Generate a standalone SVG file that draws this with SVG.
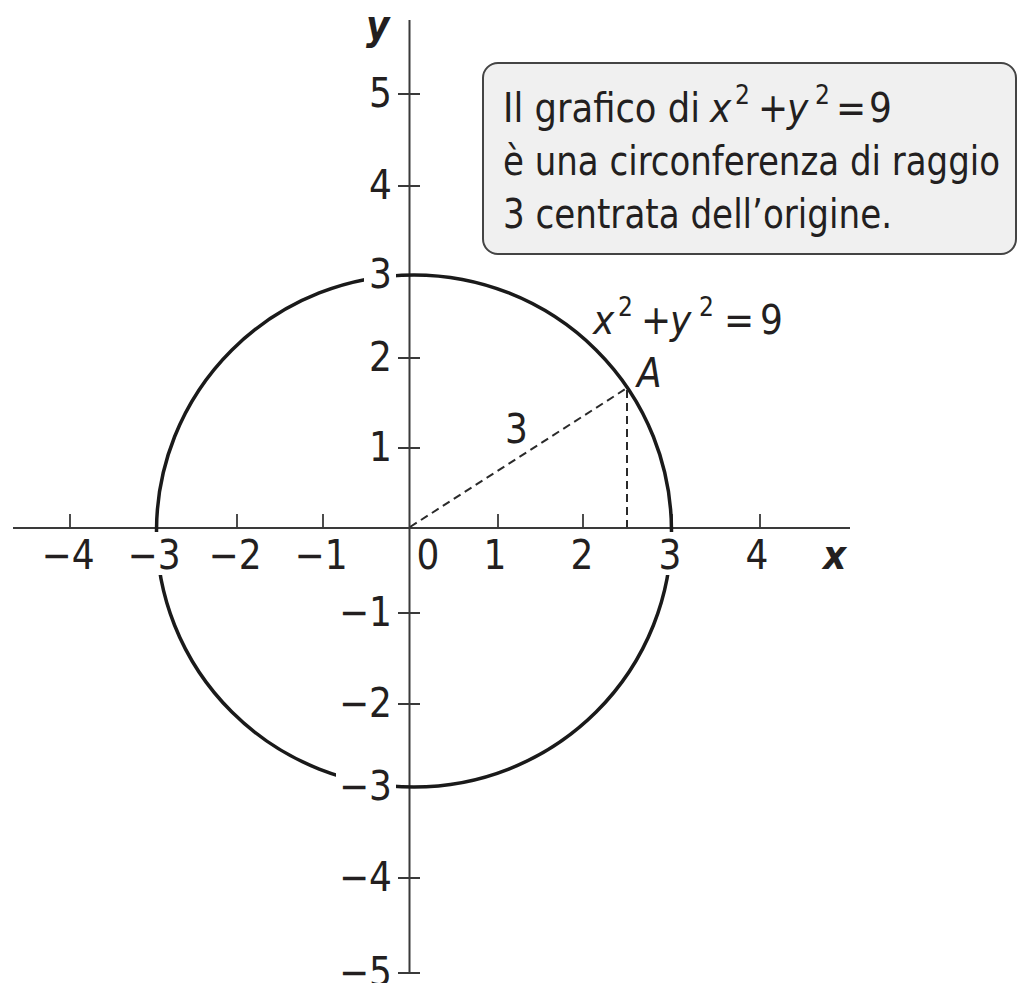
<svg xmlns="http://www.w3.org/2000/svg" width="1019" height="983" viewBox="0 0 1019 983">
<style>
.ax{stroke:#3a3a3a;stroke-width:2;fill:none}
.tk{stroke:#3a3a3a;stroke-width:1.8;fill:none}
.dash{stroke:#2a2a2a;stroke-width:2;stroke-dasharray:8 5;fill:none}
.crc{stroke:#1a1a1a;stroke-width:3.5;fill:none}
.knock{fill:#ffffff;stroke:none}
text{font-family:"Liberation Sans Narrow","DejaVu Sans Condensed","Open Sans",sans-serif;font-size:40px;fill:#231f20}
.ym{text-anchor:end}
.xm{text-anchor:middle}
.it{font-style:italic}
.bi{font-style:italic;font-weight:bold}
.sup{font-size:26px}
</style>
<rect width="1019" height="983" fill="#ffffff"/>
<g id="callout">
<rect x="483" y="63" width="533" height="191" rx="15" ry="15" fill="#f0f0f0" stroke="#444444" stroke-width="2"/>
<text x="503" y="122" textLength="197" lengthAdjust="spacingAndGlyphs">Il grafico di</text>
<text y="122"><tspan x="710" class="it">x</tspan><tspan x="735" dy="-18" class="sup">2</tspan><tspan x="758" dy="18">+</tspan><tspan x="787" class="it">y</tspan><tspan x="815" dy="-18" class="sup">2</tspan><tspan x="836" dy="18">=</tspan><tspan x="869">9</tspan></text>
<text x="503" y="175" textLength="497" lengthAdjust="spacingAndGlyphs">è una circonferenza di raggio</text>
<text x="503" y="228" textLength="389" lengthAdjust="spacingAndGlyphs">3 centrata dell’origine.</text>
</g>
<g id="axes">
<line class="ax" x1="13" y1="528" x2="850" y2="528"/>
<line class="ax" x1="409.5" y1="20" x2="409.5" y2="973"/>
<path class="tk" d="M70 514V528M157 514V528M237 514V528M323 514V528M498 514V528M583 514V528M672 514V528M760 514V528"/>
<path class="tk" d="M398 94H420M398 186H420M398 275H420M398 358H420M398 448H420M398 613H420M398 704H420M398 787H420M398 878H420M398 973H420"/>
</g>
<g id="circle">
<ellipse class="crc" cx="414" cy="531" rx="257.5" ry="256"/>
</g>
<g id="connectors">
<line class="dash" x1="410" y1="527" x2="627" y2="388"/>
<line class="dash" x1="627" y1="390" x2="627" y2="527"/>
</g>
<g id="label-gaps">
<rect class="knock" x="364" y="258" width="32" height="34"/>
<rect class="knock" x="336" y="768" width="60" height="36"/>
<rect class="knock" x="130" y="532" width="48" height="43"/>
<rect class="knock" x="657" y="532" width="27" height="43"/>
</g>
<g id="labels">
<text class="ym" x="392" y="107">5</text>
<text class="ym" x="392" y="199">4</text>
<text class="ym" x="392" y="288">3</text>
<text class="ym" x="392" y="371">2</text>
<text class="ym" x="392" y="461">1</text>
<text class="ym" x="392" y="626">−1</text>
<text class="ym" x="392" y="717">−2</text>
<text class="ym" x="392" y="800">−3</text>
<text class="ym" x="392" y="891">−4</text>
<text class="ym" x="392" y="986">−5</text>
<text class="xm" x="68" y="569">−4</text>
<text class="xm" x="154" y="569">−3</text>
<text class="xm" x="235" y="569">−2</text>
<text class="xm" x="321" y="569">−1</text>
<text class="xm" x="428" y="569">0</text>
<text class="xm" x="495" y="569">1</text>
<text class="xm" x="582" y="569">2</text>
<text class="xm" x="670" y="569">3</text>
<text class="xm" x="757" y="569">4</text>
<text class="bi" x="823" y="569">x</text>
<text class="bi" x="366" y="39">y</text>
<text x="505" y="443">3</text>
<text class="it" x="637" y="387">A</text>
<text y="334"><tspan x="593" class="it">x</tspan><tspan x="618" dy="-18" class="sup">2</tspan><tspan x="641" dy="18">+</tspan><tspan x="670" class="it">y</tspan><tspan x="699" dy="-18" class="sup">2</tspan><tspan x="724" dy="18">=</tspan><tspan x="760">9</tspan></text>
</g>
</svg>
